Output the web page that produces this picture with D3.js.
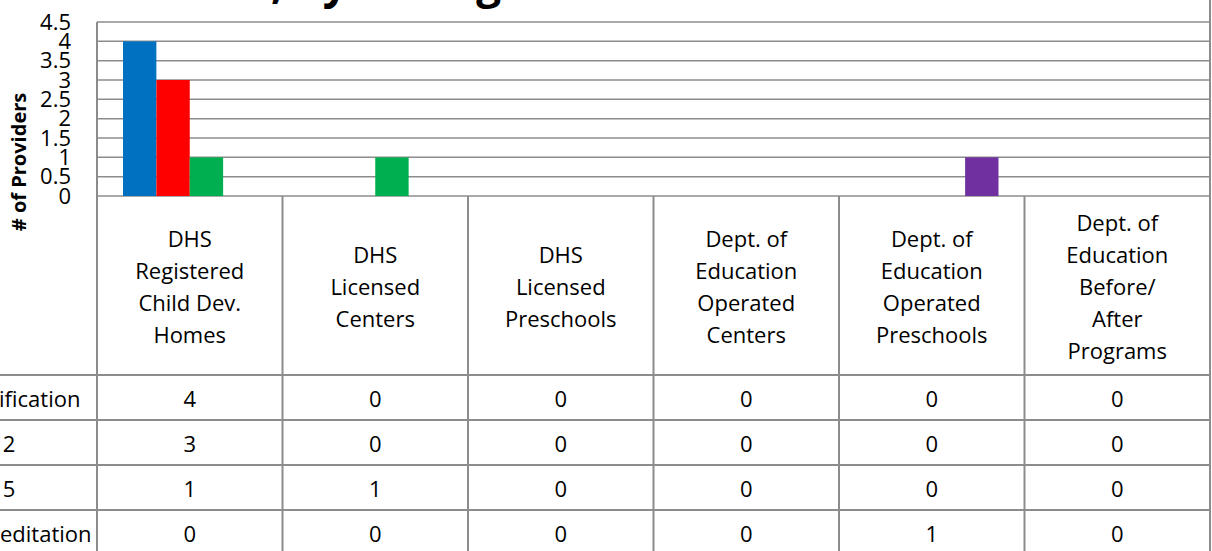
<!DOCTYPE html>
<html>
<head>
<meta charset="utf-8">
<script src="https://cdn.jsdelivr.net/npm/d3@7"></script>
<style>
  html, body { margin: 0; padding: 0; background: #fff; }
  svg { display: block; font-family: "Open Sans", "Noto Sans", sans-serif; }
</style>
</head>
<body>
<svg id="chart" width="1212" height="551"></svg>
<script>
// ── Data ──────────────────────────────────────────────────────────────────────
const categories = [
  ['DHS', 'Registered', 'Child Dev.', 'Homes'],
  ['DHS', 'Licensed', 'Centers'],
  ['DHS', 'Licensed', 'Preschools'],
  ['Dept. of', 'Education', 'Operated', 'Centers'],
  ['Dept. of', 'Education', 'Operated', 'Preschools'],
  ['Dept. of', 'Education', 'Before/', 'After', 'Programs']
]
const seriesNames  = ['Certification', 'Star 2', 'Star 5', 'Accreditation']
const seriesColors = ['#0070C0', '#FF0000', '#00B050', '#7030A0']
const certification = [4, 0, 0, 0, 0, 0]
const star2         = [3, 0, 0, 0, 0, 0]
const star5         = [1, 1, 0, 0, 0, 0]
const accreditation = [0, 0, 0, 0, 1, 0]
const values = [certification, star2, star5, accreditation]
const yTicks = [0, 0.5, 1, 1.5, 2, 2.5, 3, 3.5, 4, 4.5]

// ── Layout ────────────────────────────────────────────────────────────────────
const plot = { left: 97, right: 1210, top: 22, bottom: 196 }
const headBottom = 375
const rowH = 45
const lineH = 32
const FS = 22
const GRID = '#8c8c8c'

const svg = d3.select('#chart')

const x = d3.scaleBand()
  .domain(d3.range(categories.length))
  .range([plot.left, plot.right])

const xs = d3.scaleBand()
  .domain(d3.range(values.length))
  .range([26, x.bandwidth() - 26])

const y = d3.scaleLinear()
  .domain([0, d3.max(yTicks)])
  .range([plot.bottom, plot.top])

// ── Title (cut off by the top edge, only descenders show) ────────────────────
svg.append('text')
  .attr('x', 62).attr('y', -2)
  .attr('font-size', 44).attr('font-weight', 'bold')
  .text('Providers, by Rating')

// ── Gridlines ────────────────────────────────────────────────────────────────
svg.append('g')
  .selectAll('line')
  .data(yTicks)
  .join('line')
  .attr('x1', plot.left).attr('x2', plot.right)
  .attr('y1', d => y(d)).attr('y2', d => y(d))
  .attr('stroke', GRID).attr('stroke-width', 1.5)

// ── Bars ──────────────────────────────────────────────────────────────────────
svg.append('g')
  .selectAll('g')
  .data(values)
  .join('g')
  .attr('fill', (d, i) => seriesColors[i])
  .each(function (vals, si) {
    d3.select(this).selectAll('rect')
      .data(vals.map((v, ci) => ({ v, ci })).filter(d => d.v > 0))
      .join('rect')
      .attr('x', d => x(d.ci) + xs(si))
      .attr('width', xs.bandwidth())
      .attr('y', d => y(d.v))
      .attr('height', d => y(0) - y(d.v))
  })

// ── Y axis ────────────────────────────────────────────────────────────────────
const yAxis = d3.axisLeft(y).tickValues(yTicks).tickSize(0).tickPadding(26)
  .tickFormat(d3.format('~g'))
const ag = svg.append('g').attr('transform', `translate(${plot.left},0)`).call(yAxis)
ag.select('.domain').remove()
ag.selectAll('text')
  .attr('font-size', FS).attr('font-family', '"Open Sans", sans-serif')
  .attr('fill', '#000')

svg.append('text')
  .attr('transform', 'translate(26,162) rotate(-90)')
  .attr('text-anchor', 'middle')
  .attr('font-size', 20).attr('font-weight', 'bold')
  .text('# of Providers')

// ── Data table ────────────────────────────────────────────────────────────────
const tableBottom = headBottom + rowH * values.length
const tbl = svg.append('g').attr('stroke', GRID).attr('stroke-width', 2)

// vertical cell borders
tbl.selectAll('line.v')
  .data(d3.range(categories.length + 1))
  .join('line')
  .attr('class', 'v')
  .attr('x1', i => i < categories.length ? x(i) : plot.right)
  .attr('x2', i => i < categories.length ? x(i) : plot.right)
  .attr('y1', i => i === categories.length ? 0 : (i === 0 ? plot.top : plot.bottom))
  .attr('y2', tableBottom)

// horizontal row borders
tbl.selectAll('line.h')
  .data(d3.range(values.length + 1))
  .join('line')
  .attr('class', 'h')
  .attr('x1', 0).attr('x2', plot.right)
  .attr('y1', i => headBottom + i * rowH)
  .attr('y2', i => headBottom + i * rowH)

// category headers
svg.append('g')
  .selectAll('text')
  .data(categories)
  .join('text')
  .attr('text-anchor', 'middle')
  .attr('font-size', FS)
  .attr('x', (d, i) => x(i) + x.bandwidth() / 2)
  .attr('y', d => (plot.bottom + headBottom) / 2 - (d.length - 1) * lineH / 2)
  .attr('dominant-baseline', 'central')
  .each(function (lines) {
    const cx = d3.select(this).attr('x')
    d3.select(this).selectAll('tspan')
      .data(lines)
      .join('tspan')
      .attr('x', cx)
      .attr('dy', (d, i) => i === 0 ? 0 : lineH)
      .text(d => d)
  })

// row labels (legend keys), mostly outside the left edge
svg.append('g')
  .selectAll('text')
  .data(seriesNames)
  .join('text')
  .attr('x', -44)
  .attr('y', (d, i) => headBottom + i * rowH + rowH / 2)
  .attr('dominant-baseline', 'central')
  .attr('font-size', FS)
  .text(d => d)

// cell values
svg.append('g')
  .selectAll('g')
  .data(values)
  .join('g')
  .each(function (vals, si) {
    d3.select(this).selectAll('text')
      .data(vals)
      .join('text')
      .attr('text-anchor', 'middle')
      .attr('dominant-baseline', 'central')
      .attr('font-size', FS)
      .attr('x', (d, ci) => x(ci) + x.bandwidth() / 2)
      .attr('y', headBottom + si * rowH + rowH / 2)
      .text(d => d)
  })
</script>
</body>
</html>
